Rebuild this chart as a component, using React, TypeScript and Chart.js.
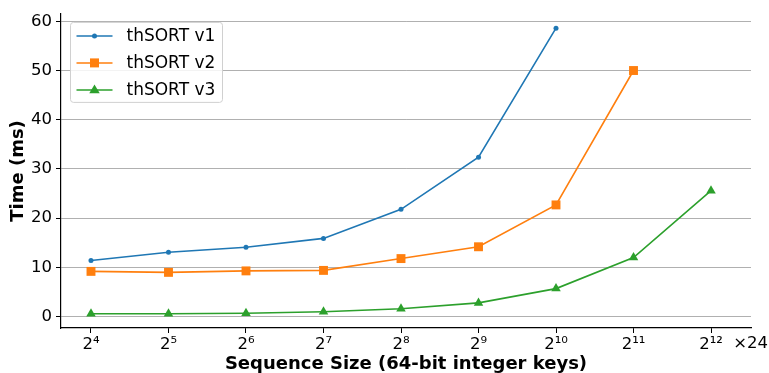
import React, { useEffect, useRef } from 'react';
import { Chart, registerables } from 'chart.js';

Chart.register(...registerables);

const sizeLabels = ['2⁴', '2⁵', '2⁶', '2⁷', '2⁸', '2⁹', '2¹⁰', '2¹¹', '2¹²'];
const v1 = [11.4, 13.1, 14.1, 15.9, 21.8, 32.4, 58.6];
const v2 = [9.2, 9.0, 9.3, 9.4, 11.8, 14.2, 22.7, 50.0];
const v3 = [0.6, 0.6, 0.7, 1.0, 1.6, 2.8, 5.7, 12.0, 25.6];
const yTicks = [0, 10, 20, 30, 40, 50, 60];
const seriesNames = ['thSORT v1', 'thSORT v2', 'thSORT v3'];
const seriesColors = ['#1f77b4', '#ff7f0e', '#2ca02c'];

const toPts = (arr: number[]) => arr.map((y, i) => ({ x: i, y }));

function drawMarker(ctx: CanvasRenderingContext2D, kind: number, x: number, y: number, color: string) {
  ctx.fillStyle = color;
  ctx.beginPath();
  if (kind === 0) {
    ctx.arc(x, y, 2.5, 0, Math.PI * 2);
  } else if (kind === 1) {
    ctx.rect(x - 4.5, y - 4.5, 9, 9);
  } else {
    const r = 5.5;
    ctx.moveTo(x, y - r);
    ctx.lineTo(x + r * 0.95, y + r * 0.6);
    ctx.lineTo(x - r * 0.95, y + r * 0.6);
    ctx.closePath();
  }
  ctx.fill();
}

const legendPlugin = {
  id: 'customLegend',
  afterDatasetsDraw(chart: any) {
    const ctx = chart.ctx as CanvasRenderingContext2D;
    const ca = chart.chartArea;
    const bx = ca.left + 9.5;
    const by = ca.top + 8.5;
    ctx.save();
    ctx.beginPath();
    ctx.roundRect(bx, by, 152, 80, 3);
    ctx.fillStyle = 'rgba(255,255,255,0.85)';
    ctx.fill();
    ctx.strokeStyle = '#d0d0d0';
    ctx.lineWidth = 1;
    ctx.stroke();
    ctx.font = '17px "DejaVu Sans"';
    ctx.textBaseline = 'middle';
    ctx.textAlign = 'left';
    for (let i = 0; i < seriesNames.length; i++) {
      const y = by + 13.5 + i * 27;
      ctx.strokeStyle = seriesColors[i];
      ctx.lineWidth = 1.5;
      ctx.beginPath();
      ctx.moveTo(bx + 6, y);
      ctx.lineTo(bx + 42, y);
      ctx.stroke();
      drawMarker(ctx, i, bx + 24, y, seriesColors[i]);
      ctx.fillStyle = '#000';
      ctx.fillText(seriesNames[i], bx + 56, y + 1);
    }
    ctx.restore();
  },
  afterDraw(chart: any) {
    const ctx = chart.ctx as CanvasRenderingContext2D;
    const ca = chart.chartArea;
    ctx.save();
    ctx.font = '16.5px "DejaVu Sans"';
    ctx.fillStyle = '#000';
    ctx.textAlign = 'right';
    ctx.textBaseline = 'middle';
    ctx.fillText('×24', ca.right + 17, ca.bottom + 16);
    ctx.restore();
  },
};

export default function App() {
  const ref = useRef<HTMLCanvasElement>(null);
  useEffect(() => {
    const chart = new Chart(ref.current!, {
      type: 'line',
      data: {
        datasets: [
          {
            label: seriesNames[0],
            data: toPts(v1),
            borderColor: seriesColors[0],
            backgroundColor: seriesColors[0],
            borderWidth: 1.6,
            pointStyle: 'circle',
            pointRadius: 2.5,
            pointBorderWidth: 0,
          },
          {
            label: seriesNames[1],
            data: toPts(v2),
            borderColor: seriesColors[1],
            backgroundColor: seriesColors[1],
            borderWidth: 1.6,
            pointStyle: 'rect',
            pointRadius: 6.3,
            pointBorderWidth: 0,
          },
          {
            label: seriesNames[2],
            data: toPts(v3),
            borderColor: seriesColors[2],
            backgroundColor: seriesColors[2],
            borderWidth: 1.6,
            pointStyle: 'triangle',
            pointRadius: 5.5,
            pointBorderWidth: 0,
          },
        ],
      },
      options: {
        animation: false,
        responsive: false,
        devicePixelRatio: 1,
        layout: { padding: { top: 12, right: 18, left: 0, bottom: 0 } },
        plugins: { legend: { display: false }, tooltip: { enabled: false } },
        scales: {
          x: {
            type: 'linear',
            min: -0.387,
            max: 8.516,
            afterBuildTicks: (s: any) => {
              s.ticks = sizeLabels.map((_, i) => ({ value: i }));
            },
            afterFit: (s: any) => {
              s.height = 45;
            },
            ticks: {
              callback: (v: any) => sizeLabels[Math.round(Number(v))] ?? '',
              font: { family: 'DejaVu Sans', size: 16.5 },
              color: '#000',
              padding: 2,
              maxRotation: 0,
              autoSkip: false,
            },
            grid: { drawOnChartArea: false, drawTicks: true, tickLength: 5, tickColor: '#000' },
            border: { display: true, color: '#000', width: 1.2 },
            title: {
              display: true,
              text: 'Sequence Size (64-bit integer keys)',
              font: { family: 'DejaVu Sans', size: 18, weight: 'bold' },
              color: '#000',
              padding: { top: 2, bottom: -2 },
            },
          },
          y: {
            type: 'linear',
            min: -2.3,
            max: 61.5,
            afterBuildTicks: (s: any) => {
              s.ticks = yTicks.map((v) => ({ value: v }));
            },
            afterFit: (s: any) => {
              s.width = 61;
            },
            ticks: {
              font: { family: 'DejaVu Sans', size: 16.5 },
              color: '#000',
              padding: 4,
            },
            grid: { drawOnChartArea: true, color: '#b0b0b0', lineWidth: 1, drawTicks: true, tickLength: 5, tickColor: '#000' },
            border: { display: true, color: '#000', width: 1.2 },
            title: {
              display: true,
              text: 'Time (ms)',
              font: { family: 'DejaVu Sans', size: 18, weight: 'bold' },
              color: '#000',
              padding: { top: 8, bottom: 0 },
            },
          },
        },
      },
      plugins: [legendPlugin],
    });
    return () => chart.destroy();
  }, []);
  return (
    <div style={{ position: 'fixed', left: 0, top: 0, width: 769, height: 373, background: '#fff' }}>
      <canvas ref={ref} width={769} height={373} style={{ width: 769, height: 373 }} />
    </div>
  );
}
